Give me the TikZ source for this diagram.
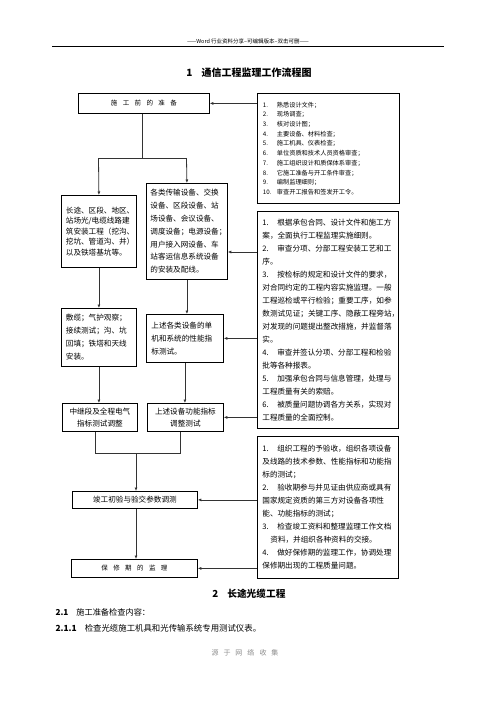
\documentclass[tikz,border=0pt]{standalone}
\usepackage{fontspec}
\setmainfont{Noto Sans CJK SC}
\usetikzlibrary{arrows.meta}
\newcommand\myfs[2]{\fontsize{#1}{#2}\selectfont}
\newcommand\nb[2][15pt]{\makebox[#1][l]{#2}}
\begin{document}
\begin{tikzpicture}[x=1pt,y=-1pt,
  box/.style={draw, line width=0.8pt, inner xsep=5pt, inner ysep=0pt, anchor=north west, align=left},
  arr/.style={draw=black!80, line width=0.8pt, -{Latex[length=3.5pt,width=3pt]}},
  ln/.style={draw=black!80, line width=0.8pt}]
\useasboundingbox (0,0) rectangle (496,702);
% header
\node[font=\myfs{5.5}{7}] (hdr) at (248,41) {——Word 行业资料分享--可编辑版本--双击可删——};
\draw[line width=0.7pt] (52,46) -- (444,46);
\node[font=\myfs{10}{12}\bfseries] (title) at (249,73) {1\hspace{9pt}通信工程监理工作流程图};
% left column
\node[box, minimum width=131pt, minimum height=20pt, text width=121pt, align=center, font=\myfs{6.5}{8}] (prep) at (78,93)
  {施\hspace{5.4pt}工\hspace{5.4pt}前\hspace{5.4pt}的\hspace{5.4pt}准\hspace{5.4pt}备};
\node[box, minimum width=75pt, minimum height=72pt, text width=66pt, inner xsep=4.5pt, font=\myfs{7.6}{10.4}] (long) at (61,195)
  {长途、区段、地区、\\站场光/电缆线路建\\筑安装工程（挖沟、\\挖坑、管道沟、井）\\以及铁塔基坑等。};
\node[box, minimum width=81pt, minimum height=96pt, text width=73pt, inner xsep=4pt, font=\myfs{7.6}{12.8}] (equip) at (146,183)
  {各类传输设备、交换\\设备、区段设备、站\\场设备、会议设备、\\调度设备；电源设备；\\用户接入网设备、车\\站客运信息系统设备\\的安装及配线。};
\node[box, minimum width=75pt, minimum height=58pt, text width=66pt, inner xsep=4.5pt, font=\myfs{7.6}{13}] (cable) at (61,308)
  {敷缆；气护观察；\\接续测试；沟、坑\\回填；铁塔和天线\\安装。};
\node[box, minimum width=77pt, minimum height=48pt, text width=67pt, font=\myfs{7.6}{13}] (perf) at (146,314)
  {上述各类设备的单\\机和系统的性能指\\标测试。};
\node[box, minimum width=75pt, minimum height=28pt, text width=67pt, inner xsep=4pt, align=center, font=\myfs{7.6}{12}] (relay) at (62,403)
  {中继段及全程电气\\指标测试调整};
\node[box, minimum width=76pt, minimum height=28pt, text width=68pt, inner xsep=4pt, align=center, font=\myfs{7.6}{12}] (func) at (147,403)
  {上述设备功能指标\\调整测试};
\node[box, minimum width=125pt, minimum height=17pt, text width=115pt, align=center, font=\myfs{7.6}{9}] (accept) at (72,491)
  {竣工初验与验交参数调测};
\node[box, minimum width=126pt, minimum height=18pt, text width=116pt, align=center, font=\myfs{6.5}{8}] (warr) at (71,559)
  {保\hspace{5.4pt}修\hspace{5.4pt}期\hspace{5.4pt}的\hspace{5.4pt}监\hspace{5.4pt}理};
% right column
\node[box, minimum width=142pt, minimum height=110pt, text width=131pt, inner xsep=5.5pt, font=\myfs{6.2}{9.7}] (r1) at (257,93)
  {\nb[14pt]{1.}熟悉设计文件；\\
   \nb[14pt]{2.}现场调查；\\
   \nb[14pt]{3.}核对设计图；\\
   \nb[14pt]{4.}主要设备、材料检查；\\
   \nb[14pt]{5.}施工机具、仪表检查；\\
   \nb[14pt]{6.}单位资质和技术人员资格审查；\\
   \nb[14pt]{7.}施工组织设计和质保体系审查；\\
   \nb[14pt]{8.}它施工准备与开工条件审查；\\
   \nb[14pt]{9.}编制监理细则；\\
   \nb[14pt]{10.}审查开工报告和签发开工令。};
\node[box, minimum width=141pt, minimum height=217pt, text width=131pt, font=\myfs{7.6}{13}] (r2) at (257,211)
  {\nb{1.}根据承包合同、设计文件和施工方\\
   案，全面执行工程监理实施细则。\\
   \nb{2.}审查分项、分部工程安装工艺和工\\
   序。\\
   \nb{3.}按检标的规定和设计文件的要求，\\
   对合同约定的工程内容实施监理。一般\\
   工程巡检或平行检验；重要工序，如参\\
   数测试见证；关键工序、隐蔽工程旁站，\\
   对发现的问题提出整改措施，并监督落\\
   实。\\
   \nb{4.}审查并签认分项、分部工程和检验\\
   批等各种报表。\\
   \nb{5.}加强承包合同与信息管理，处理与\\
   工程质量有关的索赔。\\
   \nb{6.}被质量问题协调各方关系，实现对\\
   工程质量的全面控制。};
\node[box, minimum width=141pt, minimum height=142pt, text width=131pt, font=\myfs{7.6}{13}] (r3) at (257,436)
  {\nb{1.}组织工程的予验收，组织各项设备\\
   及线路的技术参数、性能指标和功能指\\
   标的测试；\\
   \nb{2.}验收期参与并见证由供应商或具有\\
   国家规定资质的第三方对设备各项性\\
   能、功能指标的测试；\\
   \nb{3.}检查竣工资料和整理监理工作文档\\
   \hspace*{8pt}资料，并组织各种资料的交接。\\
   \nb{4.}做好保修期的监理工作，协调处理\\
   保修期出现的工程质量问题。};
% junction coordinates
\coordinate (j1) at (142,158);
\coordinate (jl) at (98.5,158);
\coordinate (jr) at (186.5,158);
\coordinate (jbl) at (95,453);
\coordinate (jbr) at (180,453);
\coordinate (jbc) at (136,453);
\coordinate (r2a) at (257,252);
% left connectors
\draw[ln] (prep.south -| j1) -- (j1);
\draw[ln] (jl) -- (jr);
\draw[arr] (jl) -- (long.north);
\draw[arr] (jr) -- (equip.north);
\draw[arr] (long.south) -- (long.south |- cable.north);
\draw[arr] (equip.south) -- (equip.south |- perf.north);
\draw[arr] (cable.south) -- (cable.south |- relay.north);
\draw[arr] (perf.south) -- (perf.south |- func.north);
\draw[ln] (relay.south -| jbl) -- (jbl) -- (jbr) -- (func.south -| jbr);
\draw[arr] (jbc) -- (jbc |- accept.north);
\draw[arr] (accept.south -| jbc) -- (jbc |- warr.north);
% right connectors
\draw[arr] (prep.east -| r1.west) -- (prep.east);
\draw[arr] (r2a) -- (r2a -| equip.east);
\draw[arr] (perf.east -| r2.west) -- (perf.east);
\draw[arr] (func.east -| r2.west) -- (func.east);
\draw[arr] (accept.east -| r3.west) -- (accept.east);
\draw[arr] (warr.east -| r3.west) -- (warr.east);
% lower text
\node[font=\myfs{9.7}{12}\bfseries] (sec2) at (249,594) {2\hspace{9pt}长途光缆工程};
\node[anchor=west, font=\myfs{8.2}{10}] (s21) at (52,612) {\textbf{2.1}\hspace{8pt}施工准备检查内容：};
\node[anchor=west, font=\myfs{8.4}{10}] (s211) at (52,628) {\textbf{2.1.1}\hspace{8pt}检查光缆施工机具和光传输系统专用测试仪表。};
\node[font=\myfs{7}{9}, text=black!45] (src) at (245,653) {源\hspace{5pt}于\hspace{5pt}网\hspace{5pt}络\hspace{5pt}收\hspace{5pt}集};
\end{tikzpicture}
\end{document}
